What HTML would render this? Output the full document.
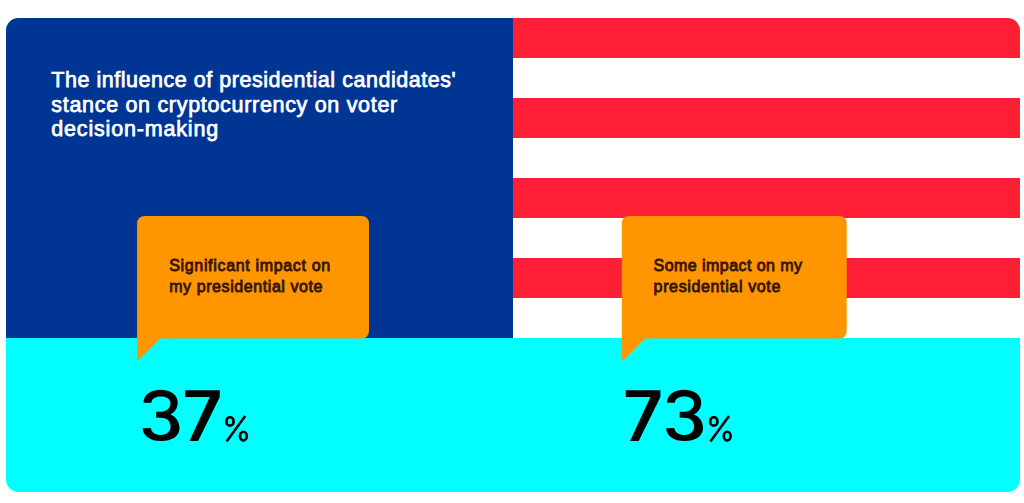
<!DOCTYPE html>
<html>
<head>
<meta charset="utf-8">
<style>
html,body{margin:0;padding:0;background:#ffffff;width:1024px;height:503px;overflow:hidden;}
body{position:relative;font-family:"Liberation Sans", sans-serif;}
.card{position:absolute;left:6.1px;top:17.6px;width:1014.2px;height:474.6px;border-radius:12.5px;overflow:hidden;background:#00ffff;}
.blue{position:absolute;left:0;top:0;width:507px;height:320.9px;background:#003594;}
.stripes{position:absolute;left:507px;top:0;width:507.2px;height:320.9px;background:#ffffff;}
.red{position:absolute;left:0;width:100%;height:40.11px;background:#ff1f35;}
.t{position:absolute;color:#ffffff;font-size:21.5px;line-height:24px;-webkit-text-stroke:0.75px #ffffff;white-space:nowrap;}
.b{position:absolute;color:#361600;font-size:16px;line-height:18px;-webkit-text-stroke:0.85px #361600;white-space:nowrap;}
</style>
</head>
<body>
<div class="card">
  <div class="blue"></div>
  <div class="stripes">
    <div class="red" style="top:0"></div>
    <div class="red" style="top:80.22px"></div>
    <div class="red" style="top:160.44px"></div>
    <div class="red" style="top:240.66px"></div>
  </div>
</div>
<div class="t" id="t1" style="left:51.3px;top:67.8px;letter-spacing:0.532px">The influence of presidential candidates'</div>
<div class="t" id="t2" style="left:51.3px;top:92.5px;letter-spacing:0.69px">stance on cryptocurrency on voter</div>
<div class="t" id="t3" style="left:51.3px;top:116.8px;letter-spacing:0.82px">decision-making</div>

<svg width="1024" height="503" style="position:absolute;left:0;top:0">
  <path d="M137.1 223.9 Q137.1 215.9 145.1 215.9 L361 215.9 Q369 215.9 369 223.9 L369 330.5 Q369 338.5 361 338.5 L160.5 338.5 L138.6 359.9 L137.1 359.9 Z" fill="#ff9500"/>
  <path d="M621.8 223.9 Q621.8 215.9 629.8 215.9 L838.7 215.9 Q846.7 215.9 846.7 223.9 L846.7 330.5 Q846.7 338.5 838.7 338.5 L645 338.5 L623.2 360.2 L621.8 360.2 Z" fill="#ff9500"/>
</svg>

<div class="b" id="b1" style="left:169.2px;top:257.3px;letter-spacing:0.67px">Significant impact on</div>
<div class="b" id="b2" style="left:169.2px;top:277.9px;letter-spacing:0.58px">my presidential vote</div>
<div class="b" id="b3" style="left:653.6px;top:257.3px;letter-spacing:0.44px">Some impact on my</div>
<div class="b" id="b4" style="left:653.6px;top:277.9px;letter-spacing:0.64px">presidential vote</div>

<svg width="1024" height="503" style="position:absolute;left:0;top:0">
  <defs>
    <path id="d3" d="M143.4 402.8 C143.8 394.6 150.7 389.7 160.5 389.7 C170.4 389.7 177.7 394.6 177.7 402.4 C177.7 407.9 174.8 412.3 170.4 414.4 C175.8 416.4 179.5 421.4 179.5 428 C179.5 436.4 171.8 441 161 441 C150.1 441 143.1 435.9 142.6 428.2 L150.8 427.9 C151.4 432.3 155.5 434.9 161 434.9 C167 434.9 170.6 431.6 170.6 426.6 C170.6 421 166.6 417.7 160.5 417.7 L156.2 417.7 L156.2 411.8 L160 411.8 C166 411.8 170.5 408.6 170.5 403.5 C170.5 399 166.5 396.6 160.5 396.6 C155.1 396.6 151.7 398.9 151.4 402.8 Z" fill="#000"/>
    <path id="d7" d="M185.2 390.3 H219.8 V397 L198.1 441 H189.5 L209.8 397 H185.2 Z" fill="#000"/>
    <g id="pc"><ellipse cx="5.5" cy="-20.6" rx="3.6" ry="4.3" fill="none" stroke="#000" stroke-width="2.7"/><ellipse cx="18.9" cy="-5.85" rx="3.4" ry="4.4" fill="none" stroke="#000" stroke-width="2.7"/><path d="M20.7 -26 L2.1 -0.6" stroke="#000" stroke-width="2.5"/></g>
  </defs>
  <use href="#d3"/>
  <use href="#d7"/>
  <use href="#pc" x="224.5" y="442"/>
  <use href="#d7" x="440.6"/>
  <use href="#d3" x="523.5"/>
  <use href="#pc" x="708.3" y="442"/>
</svg>
</body>
</html>
